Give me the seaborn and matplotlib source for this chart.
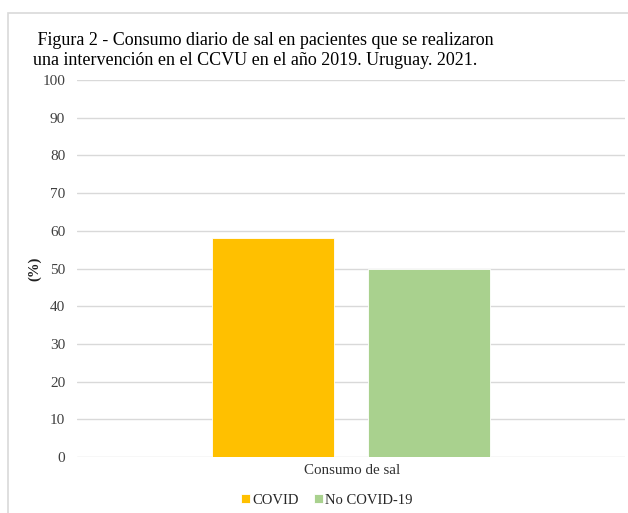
import matplotlib
matplotlib.use("Agg")
import matplotlib.pyplot as plt
import seaborn as sns
import pandas as pd
from matplotlib.patches import Rectangle

categories = ["Consumo de sal"]
groups = ["COVID", "No COVID-19"]
values = [58, 50]
colors = ["#FFC000", "#A9D18E"]
yticks = [0, 10, 20, 30, 40, 50, 60, 70, 80, 90, 100]

df = pd.DataFrame({"cat": categories * len(groups), "grupo": groups, "valor": values})

sns.set_theme(style="white")
plt.rcParams["font.family"] = ["Liberation Serif", "DejaVu Serif"]

fig = plt.figure(figsize=(6.28, 5.13), dpi=100)
ax = fig.add_axes([77/628, 1-457/513, (625-77)/628, (457-80)/513])

sns.barplot(data=df, x="cat", y="valor", hue="grupo", palette=colors,
            width=0.569, gap=0.218, ax=ax, saturation=1, edgecolor="white", linewidth=0.6)

ax.set_xlim(-0.5, 0.5)
ax.set_ylim(0, 100)
ax.set_yticks(yticks)
ax.yaxis.grid(True, color="#d9d9d9", linewidth=1)
ax.set_axisbelow(True)
for s in ax.spines.values():
    s.set_visible(False)
ax.tick_params(axis="both", length=0, labelsize=11, colors="#404040", pad=8.5)
ax.tick_params(axis="x", labelbottom=False)
ax.set_xlabel("")
ax.set_ylabel("(%)", fontsize=10.5, fontweight="bold", color="#202020")
ax.yaxis.set_label_coords(-0.065, 0.5)

fig.text(352/628, 1-470/513, categories[0], ha="center", va="center", fontsize=10.8, color="#303030")

sns.move_legend(ax, "center", bbox_to_anchor=(327/628, 1-500/513), bbox_transform=fig.transFigure,
                ncol=2, frameon=False, title=None, fontsize=10.5, handlelength=0.6, handleheight=0.6,
                handletextpad=0.2, columnspacing=1.0)

fig.text(33/628, 1-32/513, " Figura 2 - Consumo diario de sal en pacientes que se realizaron\nuna intervención en el CCVU en el año 2019. Uruguay. 2021.",
         ha="left", va="top", fontsize=13.0, color="black", linespacing=1.22)

fig.patches.append(Rectangle((8/628, -0.1), 1.2, 1-13/513+0.1, transform=fig.transFigure,
                             fill=False, edgecolor="#d9d9d9", linewidth=1.2))

fig.savefig("out.png", dpi=100)
